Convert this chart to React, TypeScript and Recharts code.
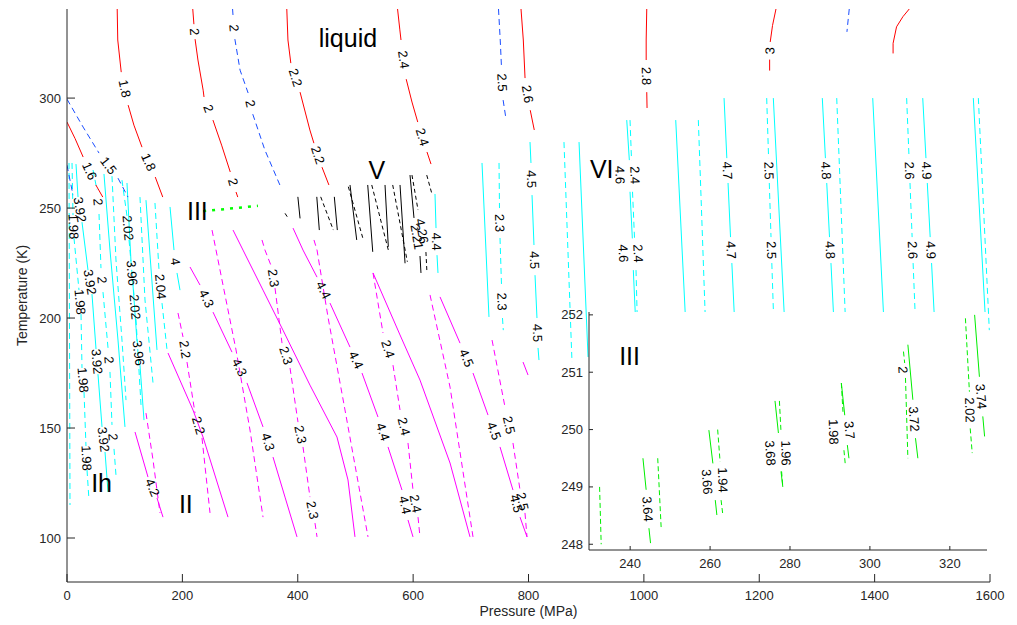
import { ComposedChart, Line, Scatter, XAxis, YAxis, CartesianGrid } from "recharts";

type Pt = [number, number] | null;
type Contour = { v?: string; pts: Pt[]; at?: [number, number][] };

// axes
const X_DOMAIN: [number, number] = [0, 1600];
const Y_DOMAIN: [number, number] = [80, 340.5];
const X_TICKS = [0, 200, 400, 600, 800, 1000, 1200, 1400, 1600];
const Y_TICKS = [100, 150, 200, 250, 300];
const INSET_X_DOMAIN: [number, number] = [229.7, 329.3];
const INSET_Y_DOMAIN: [number, number] = [247.9, 252.05];
const INSET_X_TICKS = [240, 260, 280, 300, 320];
const INSET_Y_TICKS = [248, 249, 250, 251, 252];

// liquid water: red solid / blue dashed contours
const LIQUID_SOLID: Contour[] = [
  { v: "1.6", pts: [[0, 289.1], [14, 281.6], [28, 273.2], null, [50, 260.5], [62, 255]] },
  { v: "1.8", pts: [[87, 340.5], [88, 326.4], [94, 311.8], null, [106, 296.8], [116, 287.7], [130, 277.7], null, [153, 264.1], [166, 255]] },
  { v: "2", pts: [[218, 340.5], [220, 333.6], null, [222, 326.8], [227, 317.3], [236, 303.6], [237.5, 300.5], null, [253, 290], [268, 278.6], [283, 266.4], null, [293, 257.3], [296, 255]] },
  { v: "2.2", pts: [[381, 340.5], [383, 326.4], [388, 315.9], null, [404, 302.7], [421, 285.5], [428, 279.5], null, [442, 268.6], [454, 260.5]] },
  { v: "2.4", pts: [[573, 340.5], [577, 331], [579, 326.4], null, [588, 308.6], [598, 298.2], [608, 289.1], null, [624, 275.5], [631, 270]] },
  { v: "2.6", pts: [[787, 340.5], [791, 326.4], [794, 309.1], null, [803, 294.5], [810, 285.5]] },
  { v: "2.8", pts: [[1005, 340.5], [1004, 326.4], [1004, 317.3], null, [1005, 302.7], [1005.5, 295.5]] },
  { v: "3", pts: [[1229, 340.5], [1223, 333], [1219, 325.5], null, [1218, 317.5], [1218, 312.5]] },
  { pts: [[1460, 340.5], [1449, 337], [1438, 332.4], [1432, 324.9], [1432, 320.3]] },
];
const LIQUID_DASHED: Contour[] = [
  { v: "1.5", pts: [[0, 299.5], [28, 286.8], [55.5, 275], null, [88.4, 263.6], [105.7, 255]] },
  { v: "2", pts: [[287, 340.5], [288, 336.8], null, [291, 326.8], [300, 312.7], [314, 302.3], null, [322, 292.7], [343, 276.4], [369, 260.5]] },
  { v: "2.5", pts: [[748, 340.5], [751, 326.4], [753, 315], null, [756, 299.1], [761, 290.5]] },
  { pts: [[1356, 340.5], [1352, 330.1]] },
  { pts: [[0, 269.5], [10.4, 255.9]] },
];

// ice Ih: cyan
const ICE_IH_SOLID: Contour[] = [
  { v: "3.92", pts: [[15.6, 270], [19.1, 255], null, [26, 243.6], [36.4, 221.8], null, [43.3, 210.9], [50.3, 185.9], null, [53.7, 174.5], [60.7, 150.5], null, [65.9, 139.1], [71.1, 120.9]] },
  { pts: [[64.1, 265.5], [74.5, 230.9], [88.4, 190], [100.5, 150.5]] },
  { v: "3.96", pts: [[104, 261.4], [110.9, 225.9], null, [114.4, 215], [121.3, 189.5], null, [126.5, 178.6], [133.5, 153.6]] },
  { pts: [[136.9, 253.6], [156, 185.5]] },
  { v: "4", pts: [[178.6, 250.5], [185.5, 230.9], null, [190.7, 220.5], [195.9, 212.7]] },
];
const ICE_IH_DASHED: Contour[] = [
  { pts: [[3.5, 270.5], [5.2, 115]] },
  { v: "1.98", pts: [[8.7, 270.5], [10.4, 246.8], null, [12.1, 236.4], [20.8, 212.7], null, [24.3, 201.8], [26, 177.3], null, [29.5, 166.4], [32.9, 141.8], null, [34.7, 130.9], [38.1, 117.3]] },
  { v: "2", pts: [[45.1, 267.3], [52, 258.2], null, [55.5, 247.3], [58.9, 222.7], null, [62.4, 211.8], [71.1, 186.4], null, [74.5, 175.5], [78, 151.4], null, [81.5, 140.5], [84.9, 128.6]] },
  { pts: [[78, 264.5], [84.9, 226.4], [95.3, 190], [102.3, 162.7]] },
  { v: "2.02", pts: [[95.3, 262.7], [104, 246.4], null, [107.5, 235.5], [116.1, 210.5], null, [119.6, 199.5], [128.3, 160.5]] },
  { pts: [[126.5, 255], [135.2, 208.2], [149.1, 170.5]] },
  { v: "2.04", pts: [[152.5, 252.3], [159.5, 221.8], null, [164.7, 206.8], [173.4, 185.5]] },
];

// ice II: magenta
const ICE_II_SOLID: Contour[] = [
  { v: "4.2", pts: [[117.9, 148.2], [140.4, 127.7], null, [156, 118.2], [166.4, 109.5]] },
  { pts: [[175.1, 184.1], [218.4, 158.2], [235.8, 145.9], [279.1, 109.5]] },
  { v: "4.3", pts: [[213.2, 223.2], [230.6, 215], null, [253.1, 202.7], [286, 184.5], null, [312, 170.5], [339.8, 150.5], null, [357.1, 136.8], [377.9, 118.6], [398.7, 100.5]] },
  { pts: [[287.8, 240], [305.1, 230.9], [339.8, 212.7], [374.4, 194.5], [421.2, 169.5], [468, 145.9], [487.1, 126.4], [499.2, 100.5]] },
  { v: "4.4", pts: [[391.8, 240.9], [409.1, 230.9], [433.4, 218.6], null, [455.9, 206.8], [490.6, 186.8], null, [511.4, 175], [539.1, 155], null, [556.5, 141.4], [580.7, 121.8], null, [591.1, 108.2], [599.8, 100.5]] },
  { pts: [[530.5, 220.5], [577.3, 192.3], [611.9, 171.8], [664, 134.1], [698.6, 100.5]] },
  { v: "4.5", pts: [[646.6, 209.6], [681.3, 188.6], null, [703.8, 175], [729.8, 155.9], null, [750.6, 141.4], [773.1, 121.8], null, [785.3, 109.5], [797.4, 100.5]] },
  { pts: [[790.5, 180], [799.2, 174.1]] },
];
const ICE_II_DASHED: Contour[] = [
  { pts: [[136.9, 156.8], [149.1, 135.5], [161.2, 111.4]] },
  { v: "2.2", pts: [[192.4, 202.3], [201.1, 191.4], null, [208, 180], [221.9, 156.8], null, [234, 145.5], [247.9, 111.4]] },
  { pts: [[251.4, 240], [272.2, 212.7], [293, 185.5], [317.2, 149.1], [339.8, 109.5]] },
  { v: "2.3", pts: [[338, 235.5], [343.2, 230.9], [355.4, 222.7], null, [360.6, 213.6], [372.7, 188.6], null, [386.6, 177.3], [400.4, 152.7], null, [409.1, 141.4], [421.2, 118.6], null, [429.9, 106.8], [433.4, 100.5]] },
  { pts: [[428.1, 235.5], [433.4, 230.9], [452.4, 200.5], [481.9, 158.2], [521.8, 100.5]] },
  { v: "2.4", pts: [[530.5, 220.5], [547.8, 193.2], null, [565.1, 178.6], [577.3, 158.2], null, [591.1, 143.2], [599.8, 121.8], null, [608.5, 109.5], [611.9, 100.5]] },
  { pts: [[629.3, 210.5], [664, 168.6], [703.8, 100.5]] },
  { v: "2.5", pts: [[736.8, 190], [759.3, 159.5], null, [773.1, 143.2], [785.3, 121.8], null, [793.9, 111.4], [797.4, 100.5]] },
];

// ice III (main panel, dotted green)
const ICE_III_DOTTED: Contour[] = [{ pts: [[236, 248.6], [331, 251]] }];

// ice V: black
const ICE_V_SOLID: Contour[] = [
  { pts: [[400.2, 255.1], [404, 245.3]] },
  { pts: [[433, 255.1], [437.4, 240]] },
  { pts: [[463.4, 255.1], [468.6, 240]] },
  { pts: [[490.6, 260.5], [502.2, 235.5]] },
  { pts: [[521.3, 260.5], [530, 230.1]] },
  { pts: [[551.3, 260.5], [557, 232.4]] },
  { pts: [[577.3, 260.5], [586, 224.9]] },
  { v: "2.21", pts: [[594.6, 265], [601.5, 245.5], null, [611.9, 228.2], [613.6, 220.5]] },
];
const ICE_V_DASHED: Contour[] = [
  { pts: [[378, 247.6], [383.6, 245.3]] },
  { pts: [[439.8, 255.1], [461.7, 240]] },
  { pts: [[487.7, 259.7], [513.7, 235.5]] },
  { pts: [[528.3, 260.5], [557, 230.9]] },
  { pts: [[564.6, 260.5], [590, 225.6]] },
  { v: "4.26", pts: [[598, 265], [608.5, 249.1], null, [622.2, 230], [624, 220.5]] },
  { pts: [[623.6, 265], [632.3, 256.7]] },
];

// ice VI: cyan
const ICE_VI_SOLID: Contour[] = [
  { v: "4.4", pts: [[637.9, 256.4], [639.7, 240.9], null, [641.4, 228.6], [643.1, 220.5]] },
  { pts: [[719.4, 270.5], [731.5, 200.5]] },
  { v: "4.5", pts: [[802.6, 280], [804.3, 270.5], null, [806.1, 255.9], [809.5, 233.2], null, [811.3, 219.5], [814.7, 200], null, [816.5, 186.4], [818.2, 180.9]] },
  { pts: [[887.6, 280], [903.2, 182.3]] },
  { v: "4.6", pts: [[970.3, 290], [974.8, 271.8], null, [976, 257.4], [980, 236.2], null, [981.7, 221.8], [986.4, 194.5]], at: [[958.7, 265], [964.4, 229.4]] },
  { pts: [[1055.2, 290], [1073.1, 194.5]] },
  { v: "4.7", pts: [[1139, 300], [1143.8, 272.7], null, [1145.9, 261.4], [1150.2, 236.8], null, [1152.5, 225], [1158, 194.5]] },
  { pts: [[1224.4, 300], [1244.7, 194.5]] },
  { v: "4.8", pts: [[1309.3, 300], [1314.7, 272.7], null, [1317, 261.4], [1321.8, 236.8], null, [1324.3, 225], [1330.1, 194.5]] },
  { pts: [[1396.7, 300], [1416.8, 194.5]] },
  { v: "4.9", pts: [[1483.4, 300], [1489, 272.7], null, [1491.3, 261.4], [1496.3, 236.8], null, [1498.7, 225], [1504.7, 194.5]] },
  { pts: [[1571.1, 300], [1593.1, 194.5]] },
];
const ICE_VI_DASHED: Contour[] = [
  { v: "2.3", pts: [[748.9, 270.5], [749.7, 250], null, [750.6, 236.4], [753.2, 215], null, [754.9, 200], [756.3, 194.5]] },
  { pts: [[861.5, 280], [875.4, 180]] },
  { v: "2.4", pts: [[976, 290], [978.6, 271.8], null, [980.3, 257.4], [983.8, 236.2], null, [986.4, 221.8], [989, 194.5]], at: [[984.6, 265], [990.3, 229.4]] },
  { pts: [[1094.4, 290], [1107.2, 194.5]] },
  { v: "2.5", pts: [[1212.9, 300], [1216.2, 272.7], null, [1217.4, 261.4], [1220.4, 236.8], null, [1221.8, 225], [1225.6, 194.5]] },
  { pts: [[1334.3, 300], [1350.1, 194.5]] },
  { v: "2.6", pts: [[1455.5, 300], [1459.7, 272.7], null, [1461.3, 261.4], [1465, 236.8], null, [1466.7, 225], [1471.4, 194.5]] },
  { pts: [[1579.8, 300], [1598.8, 194.5]] },
];

// inset, ice III close-up: green
const INSET_SOLID: Contour[] = [
  { v: "3.64", pts: [[243.2, 249.5], [244.0, 248.95], null, [244.7, 248.28], [245.1, 248.02]] },
  { v: "3.66", pts: [[259.7, 249.99], [260.7, 249.41], null, [261.3, 248.77], [261.7, 248.51]], at: [[259.25, 249.09]] },
  { v: "3.68", pts: [[276.25, 250.5], [277.1, 249.94], null, [277.75, 249.27], [278.2, 249.0]], at: [[275.1, 249.59]] },
  { v: "3.7", pts: [[292.85, 250.81], [293.7, 250.25], null, [294.35, 249.73], [294.75, 249.5]], at: [[294.9, 249.99]] },
  { v: "3.72", pts: [[309.5, 251.48], [310.75, 250.52], null, [311.4, 249.85], [312.0, 249.5]] },
  { v: "3.74", pts: [[326.2, 252.0], [327.4, 250.92], null, [328.25, 250.23], [328.7, 249.88]] },
];
const INSET_DASHED: Contour[] = [
  { pts: [[232.35, 249.0], [232.75, 248.0]] },
  { pts: [[246.9, 249.5], [247.75, 248.3]] },
  { v: "1.94", pts: [[261.9, 250], [262.5, 249.44], null, [262.75, 248.77], [263.2, 248.51]], at: [[263.2, 249.12]] },
  { v: "1.96", pts: [[277.35, 250.5], [277.75, 249.96], null, [277.9, 249.27], [278.2, 249.0]], at: [[279.0, 249.59]] },
  { v: "1.98", pts: [[292.85, 250.81], [293.25, 250.31], null, [293.5, 249.64], [293.85, 249.38]], at: [[290.9, 249.96]] },
  { v: "2", pts: [[308.4, 251.36], [308.7, 251.16], null, [308.9, 250.9], [309.5, 249.5]], at: [[308.25, 251.04]] },
  { v: "2.02", pts: [[323.9, 251.94], [324.9, 250.66], null, [325.1, 250.02], [325.6, 249.59]] },
];

// phase names
const MAIN_PHASES = [
  { name: "liquid", p: 487, t: 327.3 },
  { name: "V", p: 537, t: 267.3 },
  { name: "VI", p: 927, t: 267.7 },
  { name: "III", p: 226, t: 248.6 },
  { name: "Ih", p: 60, t: 125 },
  { name: "II", p: 206, t: 115.4 },
];
const INSET_PHASES = [{ name: "III", p: 239.85, t: 251.28 }];

const FONT = '"Liberation Sans", Arial, Helvetica, sans-serif';
const AXIS_COLOR = "#262626";
const DASH = "6 4";

const MAIN_W = 1017;
const MAIN_H = 625;
const MAIN_MARGIN = { top: 9, right: 27, bottom: 3, left: 7 };
const Y_AXIS_W = 60;
const X_AXIS_H = 40;
const MAIN_PLOT_W = MAIN_W - MAIN_MARGIN.left - MAIN_MARGIN.right - Y_AXIS_W;
const MAIN_PLOT_H = MAIN_H - MAIN_MARGIN.top - MAIN_MARGIN.bottom - X_AXIS_H;

const INSET_W = 448;
const INSET_H = 276;
const INSET_MARGIN = { top: 10, right: 10, bottom: 5, left: 0 };
const INSET_Y_AXIS_W = 40;
const INSET_X_AXIS_H = 23;
const INSET_PLOT_W = INSET_W - INSET_MARGIN.left - INSET_MARGIN.right - INSET_Y_AXIS_W;
const INSET_PLOT_H = INSET_H - INSET_MARGIN.top - INSET_MARGIN.bottom - INSET_X_AXIS_H;

type Group = { lines: Contour[]; color: string; dash?: string; width?: number };

const MAIN_GROUPS: Group[] = [
  { lines: ICE_IH_SOLID, color: "#00ffff" },
  { lines: ICE_IH_DASHED, color: "#00ffff", dash: DASH },
  { lines: ICE_II_SOLID, color: "#ff00ff" },
  { lines: ICE_II_DASHED, color: "#ff00ff", dash: DASH },
  { lines: ICE_VI_SOLID, color: "#00ffff" },
  { lines: ICE_VI_DASHED, color: "#00ffff", dash: DASH },
  { lines: ICE_V_SOLID, color: "#000000" },
  { lines: ICE_V_DASHED, color: "#000000", dash: "4 3" },
  { lines: LIQUID_SOLID, color: "#ff0000" },
  { lines: LIQUID_DASHED, color: "#1a4dff", dash: DASH },
  { lines: ICE_III_DOTTED, color: "#00ff00", dash: "3 6", width: 2.5 },
];

const INSET_GROUPS: Group[] = [
  { lines: INSET_SOLID, color: "#00ee00" },
  { lines: INSET_DASHED, color: "#00ee00", dash: "5 3" },
];

function toRows(pts: Pt[]) {
  return pts.map((q, i) => {
    if (q) return { p: q[0], t: q[1] };
    const prev = pts[i - 1] as [number, number];
    return { p: prev[0], t: null };
  });
}

// labels sit in the gaps of each contour, turned along the line like clabel does
function labelRows(groups: Group[], kx: number, ky: number) {
  const rows: { p: number; t: number; text: string; angle: number }[] = [];
  groups.forEach((g) =>
    g.lines.forEach((c) => {
      if (!c.v) return;
      let gi = 0;
      for (let i = 1; i < c.pts.length - 1; i++) {
        if (c.pts[i] !== null) continue;
        const a = c.pts[i - 1];
        const b = c.pts[i + 1];
        if (!a || !b) continue;
        let ang = (Math.atan2(-(b[1] - a[1]) * ky, (b[0] - a[0]) * kx) * 180) / Math.PI;
        if (ang > 90) ang -= 180;
        if (ang < -90) ang += 180;
        const pos = c.at?.[gi] ?? [(a[0] + b[0]) / 2, (a[1] + b[1]) / 2];
        rows.push({ p: pos[0], t: pos[1], text: c.v, angle: ang });
        gi++;
      }
    })
  );
  return rows;
}

function ContourLabel(props: any) {
  const { cx, cy, payload } = props;
  if (cx == null || cy == null) return null;
  return (
    <text
      x={cx}
      y={cy}
      transform={`rotate(${payload.angle} ${cx} ${cy})`}
      textAnchor="middle"
      dominantBaseline="central"
      fontSize={13}
      fontFamily={FONT}
      fill="#000"
    >
      {payload.text}
    </text>
  );
}

function PhaseLabel(props: any) {
  const { cx, cy, payload } = props;
  if (cx == null || cy == null) return null;
  return (
    <text x={cx} y={cy} textAnchor="middle" dominantBaseline="central" fontSize={25} fontFamily={FONT} fill="#000">
      {payload.name}
    </text>
  );
}

function makeTick(side: "bottom" | "top" | "left" | "right", len: number, withLabel: boolean) {
  return (props: any) => {
    const { x, y, payload } = props;
    const dx = side === "left" ? len : side === "right" ? -len : 0;
    const dy = side === "bottom" ? -len : side === "top" ? len : 0;
    return (
      <g>
        <line x1={x} y1={y} x2={x + dx} y2={y + dy} stroke={AXIS_COLOR} strokeWidth={1} />
        {withLabel && side === "bottom" && (
          <text x={x} y={y + 18} textAnchor="middle" fontSize={13} fontFamily={FONT} fill={AXIS_COLOR}>
            {payload.value}
          </text>
        )}
        {withLabel && side === "left" && (
          <text x={x - 6} y={y + 4.5} textAnchor="end" fontSize={13} fontFamily={FONT} fill={AXIS_COLOR}>
            {payload.value}
          </text>
        )}
      </g>
    );
  };
}

function renderLines(groups: Group[], prefix: string) {
  return groups.flatMap((g, gi) =>
    g.lines.map((c, ci) => (
      <Line
        key={`${prefix}-${gi}-${ci}`}
        data={toRows(c.pts)}
        dataKey="t"
        stroke={g.color}
        strokeWidth={g.width ?? 1}
        strokeDasharray={g.dash}
        dot={false}
        activeDot={false}
        connectNulls={false}
        legendType="none"
        isAnimationActive={false}
      />
    ))
  );
}

export default function App() {
  const mainLabels = labelRows(
    MAIN_GROUPS,
    MAIN_PLOT_W / (X_DOMAIN[1] - X_DOMAIN[0]),
    MAIN_PLOT_H / (Y_DOMAIN[1] - Y_DOMAIN[0])
  );
  const insetLabels = labelRows(
    INSET_GROUPS,
    INSET_PLOT_W / (INSET_X_DOMAIN[1] - INSET_X_DOMAIN[0]),
    INSET_PLOT_H / (INSET_Y_DOMAIN[1] - INSET_Y_DOMAIN[0])
  );

  return (
    <div style={{ position: "absolute", left: 0, top: 0, width: MAIN_W, height: MAIN_H, background: "#fff", fontFamily: FONT }}>
      <ComposedChart width={MAIN_W} height={MAIN_H} margin={MAIN_MARGIN}>
        <XAxis
          type="number"
          dataKey="p"
          domain={X_DOMAIN}
          ticks={X_TICKS}
          interval={0}
          allowDataOverflow
          height={X_AXIS_H}
          tickSize={0}
          tickMargin={0}
          tickLine={false}
          axisLine={{ stroke: AXIS_COLOR }}
          tick={makeTick("bottom", 8, true)}
          label={{
            content: (lp: any) => (
              <text
                x={lp.viewBox.x + lp.viewBox.width / 2}
                y={lp.viewBox.y + 34}
                textAnchor="middle"
                fontSize={14}
                fontFamily={FONT}
                fill={AXIS_COLOR}
              >
                Pressure (MPa)
              </text>
            ),
          }}
        />
        <XAxis
          xAxisId="top"
          orientation="top"
          type="number"
          dataKey="p"
          domain={X_DOMAIN}
          ticks={X_TICKS}
          interval={0}
          allowDataOverflow
          height={0}
          tickSize={0}
          tickMargin={0}
          tickLine={false}
          axisLine={{ stroke: AXIS_COLOR }}
          tick={makeTick("top", 8, false)}
        />
        <YAxis
          type="number"
          dataKey="t"
          domain={Y_DOMAIN}
          ticks={Y_TICKS}
          interval={0}
          allowDataOverflow
          width={Y_AXIS_W}
          tickSize={0}
          tickMargin={0}
          tickLine={false}
          axisLine={{ stroke: AXIS_COLOR }}
          tick={makeTick("left", 8, true)}
          label={{
            content: (lp: any) => {
              const cx = lp.viewBox.x + 15;
              const cy = lp.viewBox.y + lp.viewBox.height / 2;
              return (
                <text
                  x={cx}
                  y={cy}
                  transform={`rotate(-90 ${cx} ${cy})`}
                  textAnchor="middle"
                  dominantBaseline="central"
                  fontSize={14}
                  fontFamily={FONT}
                  fill={AXIS_COLOR}
                >
                  Temperature (K)
                </text>
              );
            },
          }}
        />
        <YAxis
          yAxisId="right"
          orientation="right"
          type="number"
          dataKey="t"
          domain={Y_DOMAIN}
          ticks={Y_TICKS}
          interval={0}
          allowDataOverflow
          width={0}
          tickSize={0}
          tickMargin={0}
          tickLine={false}
          axisLine={{ stroke: AXIS_COLOR }}
          tick={makeTick("right", 8, false)}
        />
        {renderLines(MAIN_GROUPS, "m")}
        <Scatter data={mainLabels} dataKey="t" shape={ContourLabel} isAnimationActive={false} legendType="none" />
        <Scatter data={MAIN_PHASES} dataKey="t" shape={PhaseLabel} isAnimationActive={false} legendType="none" />
      </ComposedChart>

      <div style={{ position: "absolute", left: 549, top: 302, width: INSET_W, height: INSET_H }}>
        <ComposedChart width={INSET_W} height={INSET_H} margin={INSET_MARGIN}>
          <CartesianGrid horizontal={false} vertical={false} fill="#ffffff" fillOpacity={1} />
          <XAxis
            type="number"
            dataKey="p"
            domain={INSET_X_DOMAIN}
            ticks={INSET_X_TICKS}
            interval={0}
            allowDataOverflow
            height={INSET_X_AXIS_H}
            tickSize={0}
            tickMargin={0}
            tickLine={false}
            axisLine={{ stroke: AXIS_COLOR }}
            tick={makeTick("bottom", 4, true)}
          />
          <XAxis
            xAxisId="top"
            orientation="top"
            type="number"
            dataKey="p"
            domain={INSET_X_DOMAIN}
            ticks={INSET_X_TICKS}
            interval={0}
            allowDataOverflow
            height={0}
            tickSize={0}
            tickMargin={0}
            tickLine={false}
            axisLine={{ stroke: AXIS_COLOR }}
            tick={makeTick("top", 4, false)}
          />
          <YAxis
            type="number"
            dataKey="t"
            domain={INSET_Y_DOMAIN}
            ticks={INSET_Y_TICKS}
            interval={0}
            allowDataOverflow
            width={INSET_Y_AXIS_W}
            tickSize={0}
            tickMargin={0}
            tickLine={false}
            axisLine={{ stroke: AXIS_COLOR }}
            tick={makeTick("left", 4, true)}
          />
          <YAxis
            yAxisId="right"
            orientation="right"
            type="number"
            dataKey="t"
            domain={INSET_Y_DOMAIN}
            ticks={INSET_Y_TICKS}
            interval={0}
            allowDataOverflow
            width={0}
            tickSize={0}
            tickMargin={0}
            tickLine={false}
            axisLine={{ stroke: AXIS_COLOR }}
            tick={makeTick("right", 4, false)}
          />
          {renderLines(INSET_GROUPS, "i")}
          <Scatter data={insetLabels} dataKey="t" shape={ContourLabel} isAnimationActive={false} legendType="none" />
          <Scatter data={INSET_PHASES} dataKey="t" shape={PhaseLabel} isAnimationActive={false} legendType="none" />
        </ComposedChart>
      </div>
    </div>
  );
}
